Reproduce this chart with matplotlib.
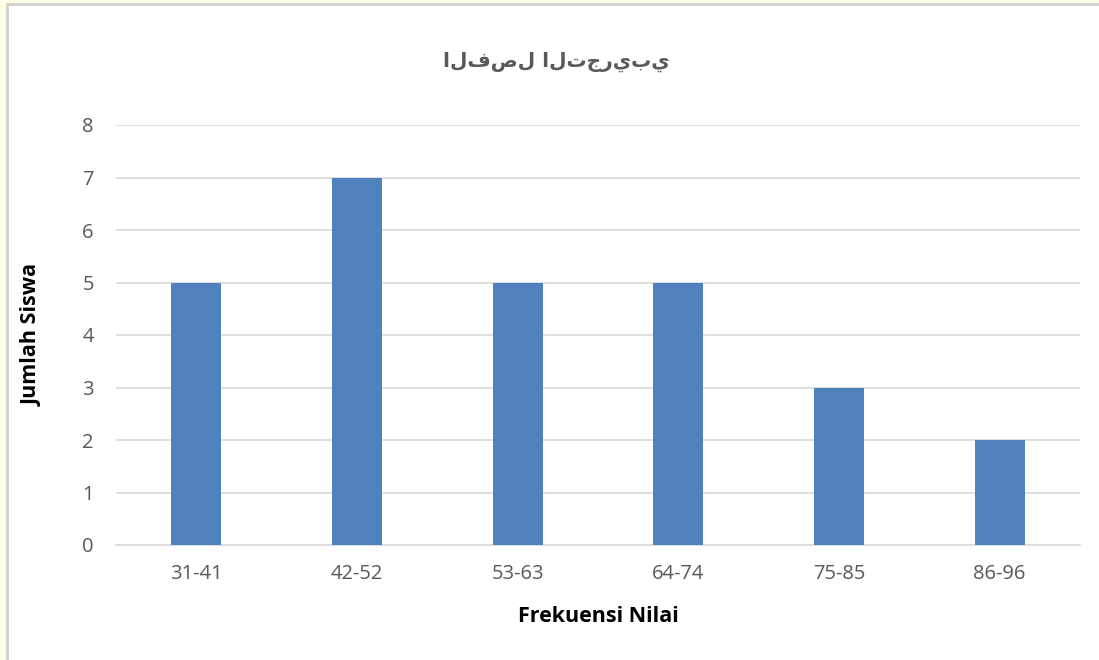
import matplotlib
matplotlib.use("Agg")
import matplotlib.pyplot as plt
from matplotlib.patches import Rectangle

categories = ["31-41", "42-52", "53-63", "64-74", "75-85", "86-96"]
values = [5, 7, 5, 5, 3, 2]
yticks = [0, 1, 2, 3, 4, 5, 6, 7, 8]
title = "الفصل التجريبي"
xlabel = "Frekuensi Nilai"
ylabel = "Jumlah Siswa"

W, H = 1099, 660
fig = plt.figure(figsize=(W / 100, H / 100), dpi=100)
fig.patch.set_facecolor("#FFFFE6")
# chart area (white with light gray border)
fig.patches.append(Rectangle((7 / W, -0.1), 1.2, 1.1 - 4 / H, transform=fig.transFigure,
                             facecolor="white", edgecolor="#D0D0D0", linewidth=2, zorder=-5))

ax = fig.add_axes([116 / W, 1 - 545 / H, (1080 - 116) / W, (545 - 125) / H])
ax.set_zorder(2)
ax.set_facecolor("none")
x = range(len(categories))
ax.bar(x, values, width=0.31, color="#4F81BD", zorder=3)
ax.set_xlim(-0.5, len(categories) - 0.5)
ax.set_ylim(0, 8)
ax.set_yticks(yticks)
ax.set_xticks(list(x))
ax.set_xticklabels(categories)
ax.grid(axis="y", color="#D9D9D9", linewidth=1.2, zorder=0)
ax.set_axisbelow(True)
for s in ["top", "right", "left"]:
    ax.spines[s].set_visible(False)
ax.spines["bottom"].set_color("#D9D9D9")
ax.spines["bottom"].set_linewidth(1.2)
ax.tick_params(axis="both", length=0, labelsize=14.5, labelcolor="#595959")
ax.tick_params(axis="y", pad=16)
ax.tick_params(axis="x", pad=14)
for lab in ax.get_xticklabels() + ax.get_yticklabels():
    lab.set_family("Open Sans")
ax.set_xlabel(xlabel, fontsize=15.5, fontweight="bold", family="Open Sans", color="black")
ax.set_ylabel(ylabel, fontsize=15.5, fontweight="bold", family="Open Sans", color="black")
ax.xaxis.set_label_coords(0.5, (545 - 617) / 420)
ax.xaxis.label.set_va("center")
ax.yaxis.set_label_coords((32 - 116) / 964, 0.5)
ax.yaxis.label.set_va("center")

fig.text(556 / W, 1 - 62 / H, title, ha="center", va="center", fontsize=14.5,
         fontweight="bold", color="#595959", family=["DejaVu Sans"])

fig.savefig("out.png", dpi=100, facecolor=fig.get_facecolor())
